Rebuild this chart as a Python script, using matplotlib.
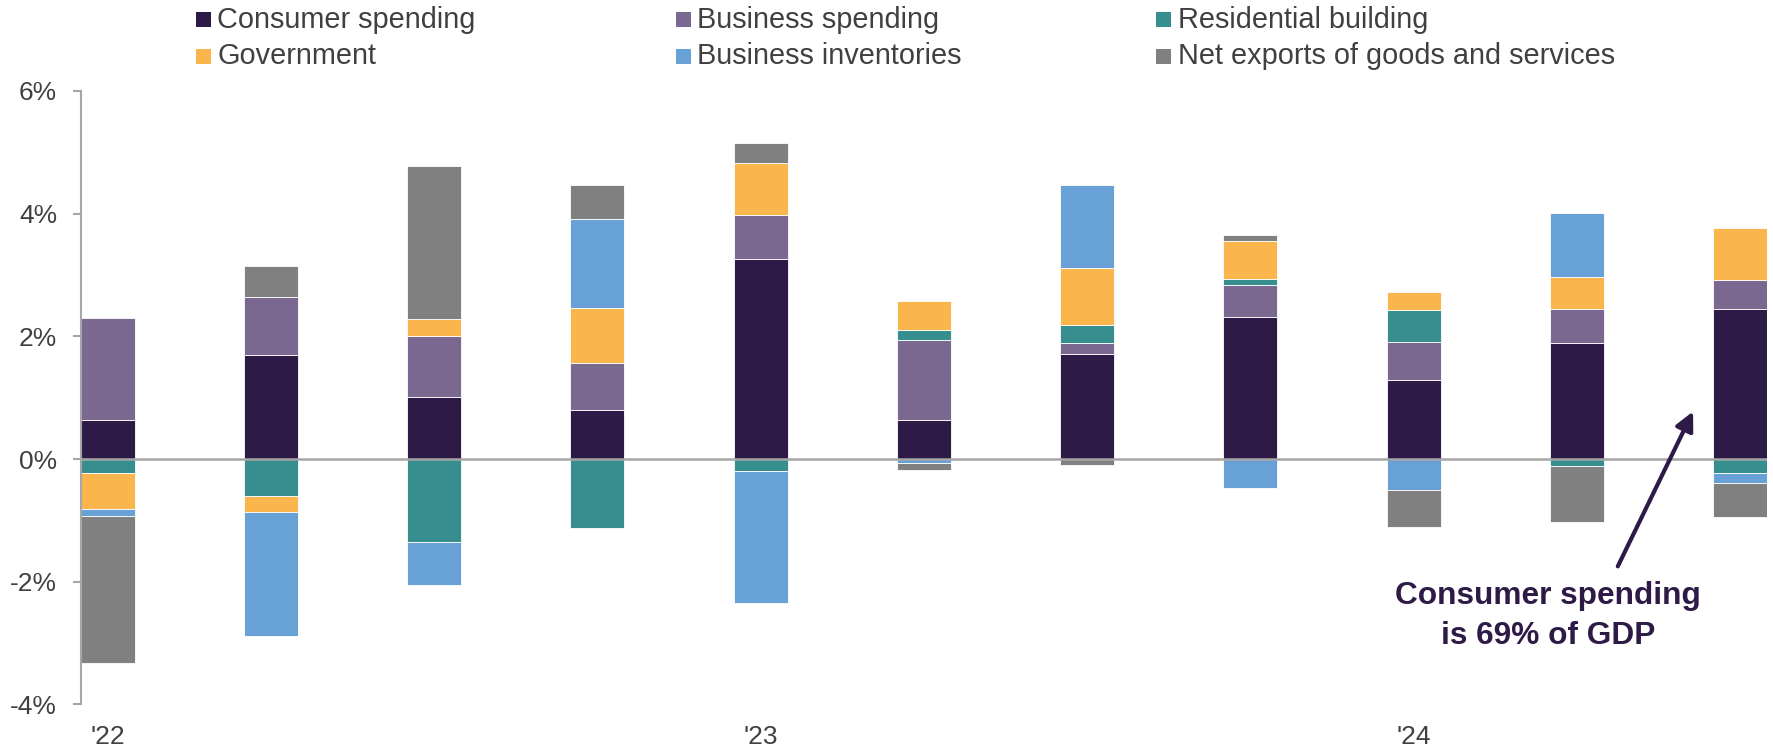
import numpy as np
import matplotlib
matplotlib.use("Agg")
import matplotlib.pyplot as plt
from matplotlib.patches import Rectangle

plt.rcParams['font.family'] = ['Liberation Sans', 'DejaVu Sans']

# contributions to real GDP growth, percentage points, Q1 2022 .. Q3 2024
quarters = ["1Q22", "2Q22", "3Q22", "4Q22", "1Q23", "2Q23", "3Q23",
            "4Q23", "1Q24", "2Q24", "3Q24"]
consumer = [0.63, 1.69, 1.01, 0.80, 3.26, 0.63, 1.72, 2.31, 1.29, 1.90, 2.45]
business = [1.67, 0.95, 1.00, 0.76, 0.72, 1.31, 0.17, 0.53, 0.62, 0.54, 0.47]
residential = [-0.22, -0.60, -1.35, -1.12, -0.19, 0.17, 0.29, 0.10, 0.52, -0.11, -0.22]
government = [-0.60, -0.27, 0.27, 0.91, 0.84, 0.47, 0.94, 0.62, 0.30, 0.52, 0.85]
inventories = [-0.10, -2.01, -0.71, 1.44, -2.16, -0.06, 1.34, -0.47, -0.50, 1.05, -0.17]
net_exports = [-2.40, 0.51, 2.50, 0.56, 0.33, -0.11, -0.10, 0.09, -0.60, -0.91, -0.56]

series_names = ["Consumer spending", "Business spending", "Residential building",
                "Government", "Business inventories", "Net exports of goods and services"]
series_vals = [consumer, business, residential, government, inventories, net_exports]
colors = ["#2E1A47", "#7B6890", "#368E8F", "#FAB64C", "#68A1D6", "#808080"]

xtick_pos = [0, 4, 8]
xtick_labels = ["'22", "'23", "'24"]
yticks = [-4, -2, 0, 2, 4, 6]
ytick_labels = ["-4%", "-2%", "0%", "2%", "4%", "6%"]

text_col = "#404040"
axis_col = "#A6A6A6"

fig = plt.figure(figsize=(17.74, 7.5), dpi=100)
ax = fig.add_axes([0.0454, 0.0607, 0.9507, 0.818])

x = np.arange(len(quarters))
w = 0.331
pos_base = np.zeros(len(quarters))
neg_base = np.zeros(len(quarters))
for name, vals, c in zip(series_names, series_vals, colors):
    v = np.array(vals)
    bottom = np.where(v >= 0, pos_base, neg_base)
    ax.bar(x, v, width=w, bottom=bottom, color=c, edgecolor="white",
           linewidth=0.6, zorder=2)
    pos_base += np.where(v >= 0, v, 0)
    neg_base += np.where(v < 0, v, 0)

ax.axhline(0, color=axis_col, lw=1.8, zorder=3)

ax.set_xlim(-w / 2, len(quarters) - 1 + w / 2)
ax.set_ylim(-4, 6)
ax.set_yticks(yticks)
ax.set_yticklabels(ytick_labels)
ax.set_xticks(xtick_pos)
ax.set_xticklabels(xtick_labels)
ax.tick_params(axis='y', length=5.8, width=1.5, color=axis_col, pad=11,
               labelsize=19, labelcolor=text_col)
ax.tick_params(axis='x', length=0, pad=15, labelsize=19, labelcolor=text_col)
for s in ["top", "right", "bottom"]:
    ax.spines[s].set_visible(False)
ax.spines["left"].set_color(axis_col)
ax.spines["left"].set_linewidth(1.5)

# legend: two rows of three, filled row by row
W, H = 1774.0, 750.0
for i, (name, c) in enumerate(zip(series_names, colors)):
    col, row = i % 3, i // 3
    px = 196 + 480 * col
    py = 19.5 + 37 * row
    fig.add_artist(Rectangle((px / W, 1 - (py + 7.5) / H), 15 / W, 15 / H,
                             transform=fig.transFigure, color=c, lw=0))
    fig.text((px + 21.5) / W, 1 - py / H, name, fontsize=20.8, color=text_col,
             va="center", ha="left")

ax.annotate("", xy=(9.712, 0.775), xytext=(9.251, -1.749),
            arrowprops=dict(arrowstyle="-|>", color="#2E1A47", lw=3,
                            mutation_scale=28, shrinkA=0, shrinkB=0))
ax.text(8.823, -2.56, "Consumer spending\nis 69% of GDP", fontsize=22.8,
        fontweight="bold", color="#2E1A47", ha="center", va="center",
        linespacing=1.45)

fig.savefig("out.png", dpi=100)
